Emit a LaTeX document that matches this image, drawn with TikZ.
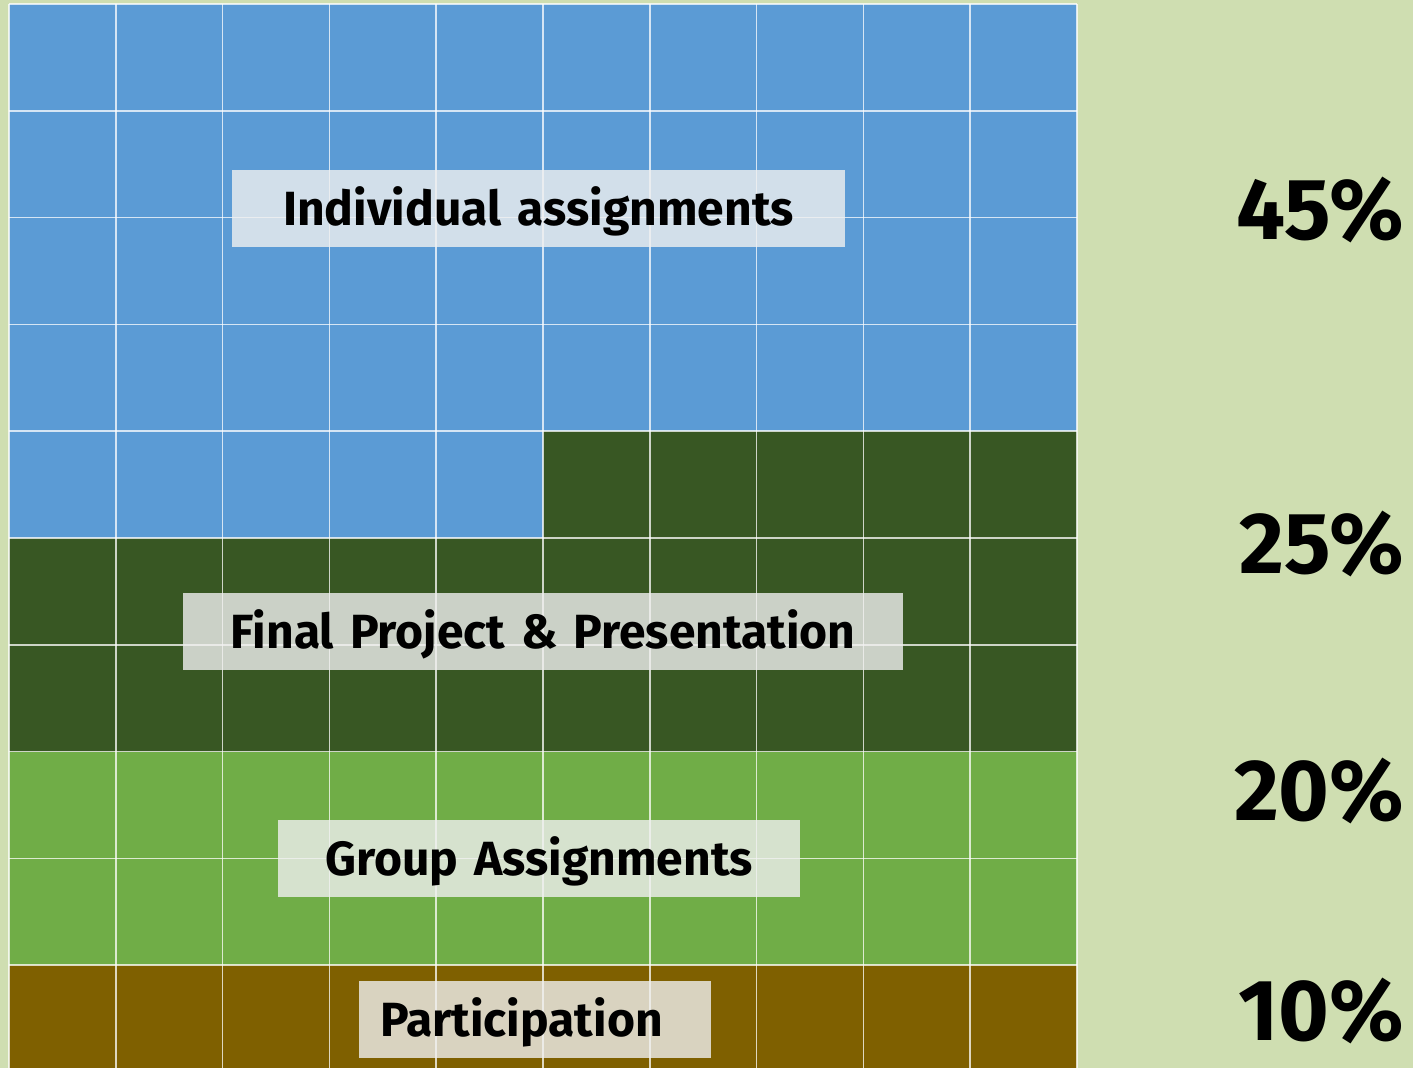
\documentclass[tikz,border=0pt]{standalone}
\usepackage{fontspec}
\setmainfont{Fira Sans}
\usepackage{tikz}
\usetikzlibrary{calc}
\definecolor{fond}{HTML}{CFDEB1}
\definecolor{bleu}{HTML}{5B9BD5}
\definecolor{vertfonce}{HTML}{385723}
\definecolor{vertclair}{HTML}{70AD47}
\definecolor{brun}{HTML}{7F6000}
\definecolor{etiq}{HTML}{F0F0F0}
\tikzset{
  grille/.style={white,opacity=0.75,line width=0.4pt},
  etiquette/.style={fill=etiq,fill opacity=0.8,text opacity=1,inner xsep=0pt,
    minimum height=19.25pt,text height=8.3pt,text depth=0pt,align=center,
    font=\fontsize{12}{14}\selectfont\bfseries},
  pourcent/.style={anchor=base east,inner xsep=0pt,font=\fontsize{21.7}{26}\selectfont\bfseries}
}

\begin{document}
\begin{tikzpicture}[x=0.25pt,y=-0.25pt]
  \useasboundingbox (0,0) rectangle (1413,1068);
  \clip (0,0) rectangle (1413,1068);
  \fill[fond] (0,0) rectangle (1413,1068);
  \coordinate (O) at (9,4);
  % cases de la grille 10x10
  \foreach \n in {0,...,99}{
    \pgfmathtruncatemacro{\col}{mod(\n,10)}
    \pgfmathtruncatemacro{\row}{div(\n,10)}
    \ifnum\n<45 \def\couleur{bleu}\else\ifnum\n<70 \def\couleur{vertfonce}\else\ifnum\n<90 \def\couleur{vertclair}\else\def\couleur{brun}\fi\fi\fi
    \fill[\couleur] ($(O)+(106.8*\col,106.8*\row)$) rectangle +(106.8,106.8);
  }
  \foreach \i in {0,...,10}{
    \draw[grille] ($(O)+(106.8*\i,0)$) -- +(0,1068);
    \draw[grille] ($(O)+(0,106.8*\i)$) -- +(1068,0);
  }
  % etiquettes
  \node[etiquette,text width=153.25pt] (indiv) at (538.5,208.5) {Individual assignments};
  \node[etiquette,text width=180pt] (projet) at (543,631.5) {Final Project \& Presentation};
  \node[etiquette,text width=130.5pt] (groupe) at (539,858.5) {Group Assignments};
  \node[etiquette,inner xsep=5.25pt,text width=77.5pt,align=left] (partic) at (535,1019.5) {Participation};
  % pourcentages
  \node[pourcent] (p45) at (1405,240) {45\%};
  \node[pourcent] (p25) at (1405,573) {25\%};
  \node[pourcent] (p20) at (1405,820) {20\%};
  \node[pourcent] (p10) at (1405,1040) {10\%};
\end{tikzpicture}
\end{document}
